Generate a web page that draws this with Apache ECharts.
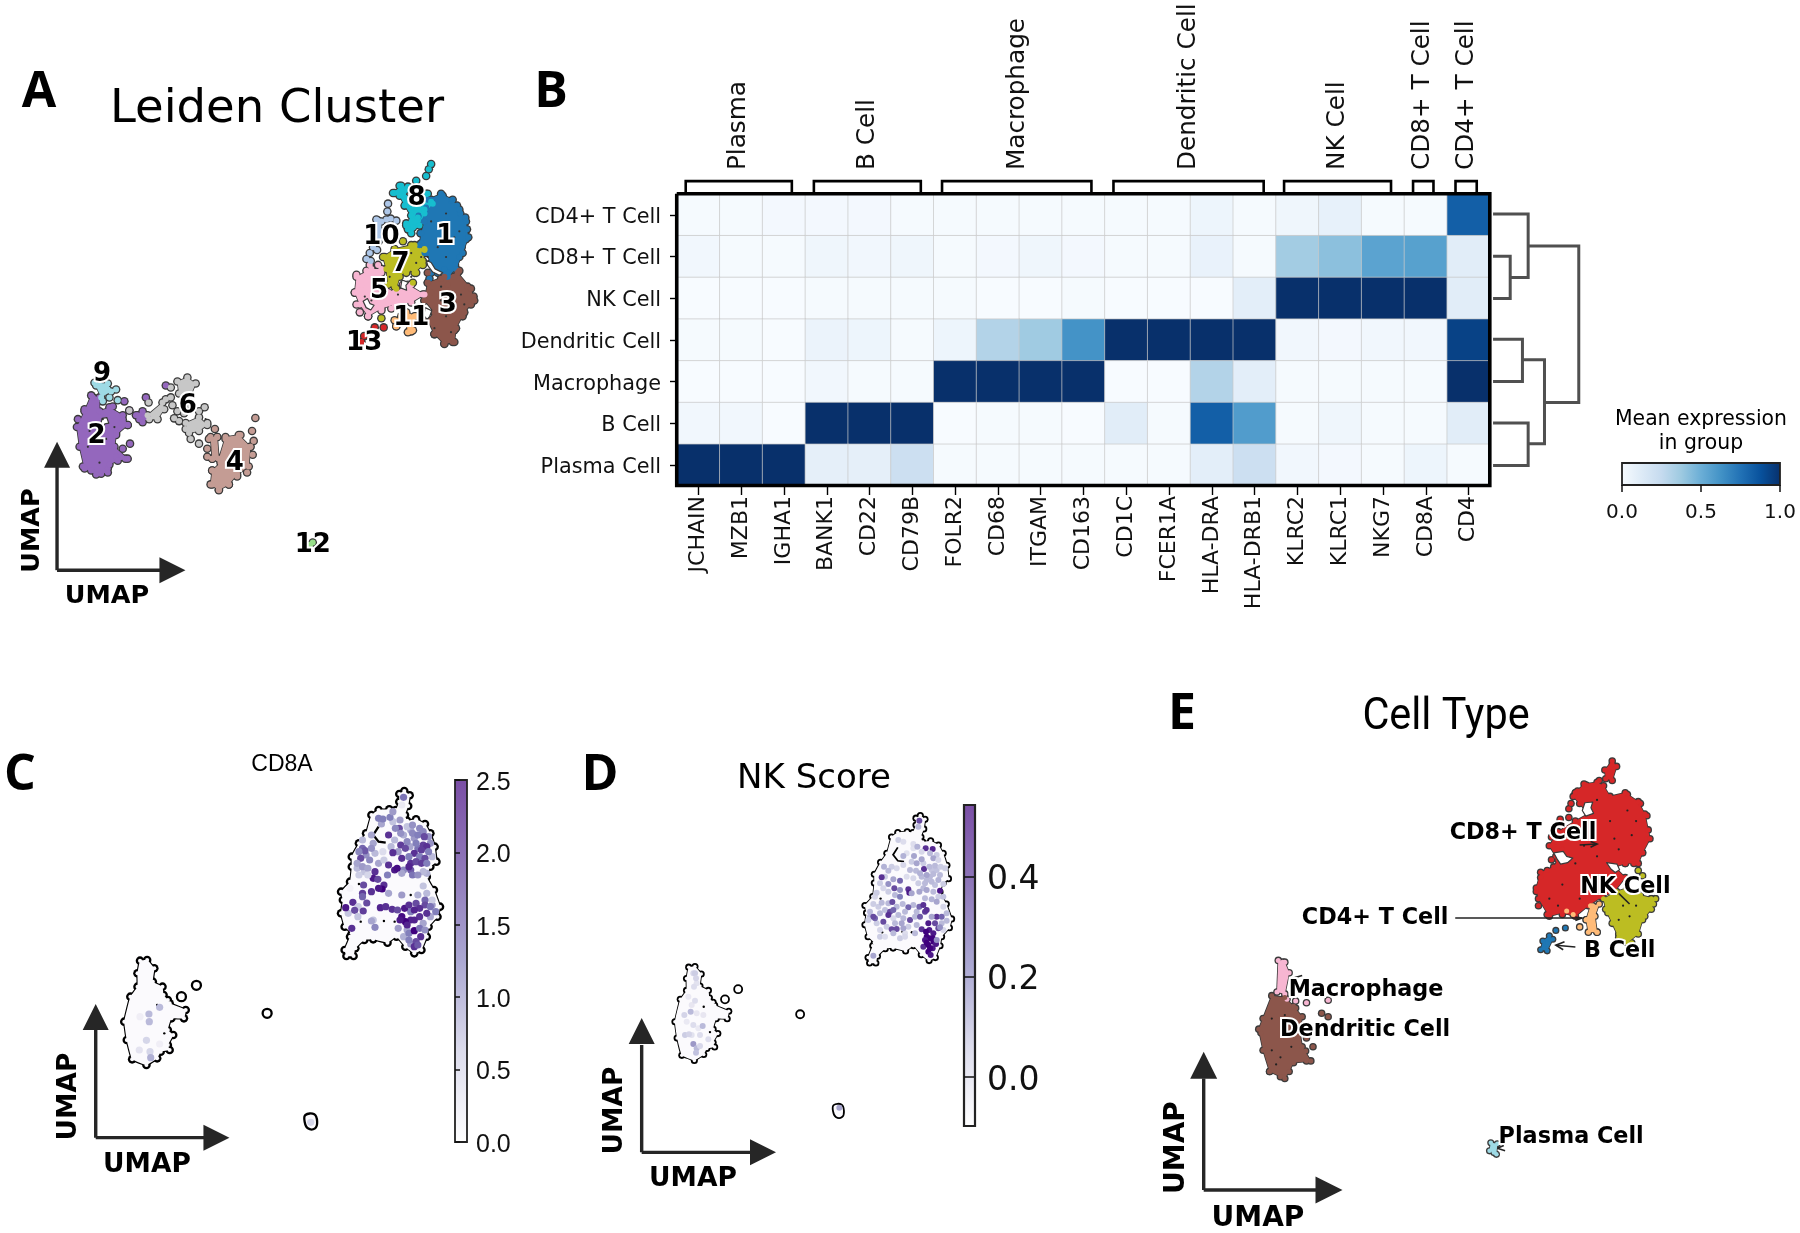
<!DOCTYPE html>
<html><head><meta charset="utf-8">
<style>html,body{margin:0;padding:0;background:#fff}#c{width:1800px;height:1233px}</style>
<script src="https://cdn.jsdelivr.net/npm/echarts@6/dist/echarts.min.js"></script>
</head><body><div id="c"></div>
<script>
// ---------- Heatmap (panel B) ----------
const genes=['JCHAIN','MZB1','IGHA1','BANK1','CD22','CD79B','FOLR2','CD68','ITGAM','CD163','CD1C','FCER1A','HLA-DRA','HLA-DRB1','KLRC2','KLRC1','NKG7','CD8A','CD4'];
const cellTypes=['CD4+ T Cell','CD8+ T Cell','NK Cell','Dendritic Cell','Macrophage','B Cell','Plasma Cell'];
const cd4Row=[.01,.01,.02,.02,.02,.01,.01,.01,.01,.01,.01,.01,.05,.01,.04,.08,.01,.01,.82];
const cd8Row=[.03,.01,.01,.04,.03,.04,.01,.02,.04,.02,.01,.01,.07,.01,.36,.42,.55,.56,.11];
const nkRow=[0,0,0,.01,.01,.01,.01,0,0,.01,0,0,0,.10,1,1,1,1,.11];
const dcRow=[.01,.01,0,.06,.05,.01,.05,.31,.37,.62,1,1,1,1,.03,.02,.03,.03,.93];
const macRow=[0,0,0,.03,.01,.01,1,1,1,1,0,0,.31,.10,.01,.01,.01,.01,1];
const bRow=[.03,.03,0,1,1,1,0,.01,.01,0,.11,.01,.82,.58,.01,.04,.01,.01,.11];
const plasmaRow=[1,1,1,.09,.09,.22,.01,.01,.01,.01,.01,.01,.10,.22,.03,.02,.01,.05,.01];
const heatRows=[cd4Row,cd8Row,nkRow,dcRow,macRow,bRow,plasmaRow];
const geneGroups=['Plasma','B Cell','Macrophage','Dendritic Cell','NK Cell','CD8+ T Cell','CD4+ T Cell'];
const groupCenters=[268,426,609,819,1002,1106,1159];
const groupSpans=[[203,333],[360,491],[517,700],[727,911],[936,1067],[1094,1119],[1146,1172]];
const dendroPaths=[
 [[1192,541],[1235,541],[1235,702],[1213,702]],
 [[1192,648],[1213,648],[1213,755],[1192,755]],
 [[1235,622],[1297,622],[1297,1018],[1255,1018]],
 [[1192,858],[1228,858],[1228,965],[1192,965]],
 [[1228,910],[1255,910],[1255,1122],[1235,1122]],
 [[1192,1070],[1235,1070],[1235,1177],[1192,1177]]];

// ---------- Panel A: Leiden clusters ----------
const leidenColors=['#1f77b4','#9467bd','#8c564b','#c49c94','#f7b6d2','#c7c7c7','#bcbd22','#17becf','#9edae5','#aec7e8','#ffbb78','#98df8a','#d62728'];
const leidenOutlines=[
 [[[1290,505],[1330,490],[1365,505],[1385,530],[1405,560],[1412,600],[1395,640],[1375,680],[1350,700],[1320,690],[1300,665],[1285,640],[1265,620],[1270,590],[1280,560],[1262,545]]],
 [[[275,1000],[300,1005],[300,1040],[330,1030],[370,1050],[385,1075],[350,1100],[345,1130],[385,1160],[355,1165],[330,1175],[325,1195],[290,1200],[255,1185],[240,1130],[232,1080],[255,1040]],[[410,1050],[430,1040],[445,1055],[430,1068]]],
 [[[1290,715],[1340,700],[1380,690],[1420,730],[1430,760],[1400,790],[1375,830],[1370,865],[1340,870],[1310,845],[1290,810],[1310,790],[1280,760]]],
 [[[635,1105],[655,1105],[660,1160],[680,1105],[720,1100],[755,1130],[750,1180],[715,1200],[690,1225],[660,1240],[635,1225],[640,1190],[665,1170],[640,1160]]],
 [[[1075,700],[1120,680],[1150,680],[1150,720],[1190,740],[1230,720],[1280,745],[1240,765],[1190,770],[1150,780],[1110,800],[1085,770],[1070,740]]],
 [[[535,965],[565,955],[590,970],[575,1000],[555,1010],[540,995]],[[560,1070],[600,1055],[625,1075],[600,1090],[570,1095]],[[445,1050],[490,1018],[495,1035],[475,1060],[450,1060]]],
 [[[1155,650],[1190,630],[1240,620],[1280,630],[1275,670],[1250,690],[1230,680],[1205,700],[1195,730],[1170,720],[1165,680]]],
 [[[1185,488],[1210,470],[1230,472],[1222,500],[1240,525],[1270,515],[1285,490],[1305,515],[1280,540],[1265,570],[1240,590],[1225,570],[1240,545],[1220,520],[1205,495]]],
 [[[285,968],[325,970],[335,990],[305,1005]]],
 [[[1135,555],[1150,560],[1150,600],[1130,615],[1128,580]]],
 [[[1225,790],[1255,800],[1245,835],[1230,840],[1225,815],[1195,825],[1190,810]]],
 [],[]];
const leidenCells=[
 [[1300,505],[1335,495],[1360,508],[1378,520],[1388,540],[1403,550],[1408,580],[1405,605],[1392,625],[1385,650],[1372,670],[1352,690],[1340,680],[1315,680],[1300,690],[1295,705],[1280,640],[1270,615],[1268,590],[1278,560],[1262,548],[1285,525]],
 [[375,1015],[340,1028],[390,1038],[392,1122],[370,1135],[378,1160],[240,1080],[235,1060],[255,1035],[280,1005],[250,1180],[275,1190],[305,1198],[325,1185],[350,1155],[340,1050],[370,1060],[385,1075],[350,1095],[340,1130],[440,1005],[500,975],[415,1050],[430,1045],[440,1055],[420,1060]],
 [[1290,690],[1290,715],[1330,705],[1385,685],[1370,700],[1410,725],[1428,750],[1420,770],[1395,800],[1370,835],[1365,865],[1340,868],[1310,845],[1290,810],[1280,760],[1300,740],[1350,720]],
 [[630,1110],[655,1105],[625,1135],[625,1155],[640,1160],[680,1110],[725,1100],[760,1090],[765,1115],[755,1130],[762,1150],[745,1195],[715,1205],[690,1225],[660,1238],[640,1225],[640,1190],[770,1057],[648,1085]],
 [[1115,670],[1140,670],[1075,695],[1105,685],[1070,740],[1075,770],[1085,790],[1110,800],[1130,770],[1150,785],[1180,780],[1215,720],[1240,720],[1275,745],[1150,690],[1160,750],[1090,720]],
 [[500,1010],[515,1005],[520,1025],[535,1040],[555,1045],[575,1025],[617,1030],[600,1040],[525,1058],[540,1065],[560,1085],[575,1110],[600,1122],[625,1070],[515,980],[448,1018],[390,1038]],
 [[1160,650],[1190,635],[1215,610],[1250,620],[1280,632],[1275,660],[1255,690],[1225,690],[1190,725],[1150,805],[1170,680],[1245,715]],
 [[1300,415],[1293,428],[1285,445],[1255,457],[1205,470],[1190,488],[1225,480],[1225,505],[1290,490],[1300,510],[1280,530],[1260,550],[1245,575],[1225,565],[1230,580],[1240,530]],
 [[300,975],[325,985],[350,985],[330,1005],[355,1012],[310,1015],[290,975]],
 [[1140,558],[1132,578],[1155,585],[1168,535],[1165,555],[1178,553],[1195,558],[1142,610],[1125,625],[1137,632],[1105,655],[1118,660],[1115,640],[1170,515]],
 [[1195,825],[1240,838],[1225,800],[1250,800],[1210,800]],
 [[935,1378],[943,1372]],
 [[1090,865],[1130,828],[1157,828],[1098,850]]];
const leidenLabels=[['1',1340,590],['2',288,1095],['3',1347,765],['4',705,1165],['5',1140,730],['6',563,1020],['7',1205,660],['8',1253,495],['9',305,940],['10',1147,592],['11',1237,798],['12',940,1372],['13',1095,860]];
const leidenSpecks=[[1300,560],[1320,625],[1370,600],[1345,650],[1385,585],[1290,650],[1345,540],[1240,640],[1270,650],[1255,665],[1210,675],[1175,700],[1240,700],[1130,720],[1100,750],[1120,760],[1200,745],[1330,760],[1310,830],[1345,800],[1390,745],[1400,770],[1360,840],[1330,725],[270,1090],[265,1130],[300,1170],[310,1060],[345,1080],[320,1110],[690,1180],[725,1150],[620,1060]];
const leidenHoles=[
 [[1285,658],[1300,664],[1312,680],[1335,690],[1325,696],[1305,688],[1290,672]],
 [[1095,762],[1108,755],[1116,768],[1128,772],[1118,784],[1104,778]],
 [[1282,778],[1302,786],[1296,800],[1288,808],[1278,798]],
 [[308,1058],[322,1056],[328,1070],[316,1072],[312,1082],[304,1072]],
 [[1212,708],[1232,714],[1224,722],[1226,734],[1208,728]]];

// ---------- Panels C and D share one embedding ----------
const mainIslandOutline=[[1118,222],[1132,213],[1147,226],[1143,258],[1134,285],[1140,302],[1165,298],[1190,312],[1205,340],[1217,380],[1222,425],[1205,440],[1195,470],[1215,510],[1232,560],[1225,590],[1200,620],[1195,650],[1180,690],[1160,700],[1135,680],[1110,650],[1085,668],[1045,658],[1020,660],[995,685],[990,708],[970,708],[965,690],[980,650],[985,640],[965,620],[955,580],[960,540],[955,515],[980,485],[985,440],[985,410],[1005,370],[1025,340],[1040,285],[1060,270],[1090,268],[1108,270],[1118,245]];
const leftIslandOutline=[[392,722],[412,720],[432,745],[428,785],[455,800],[458,825],[470,840],[475,850],[520,870],[515,895],[480,895],[470,930],[485,945],[470,975],[475,990],[450,995],[440,1015],[410,1035],[370,1018],[355,960],[348,905],[365,830],[385,800],[385,760]];
const lowIslandOutline=[[855,1185],[880,1183],[888,1205],[882,1225],[862,1225],[853,1205]];
const notchLine=[[1060,320],[1045,345],[1060,365],[1080,368]];
const looseCells=[[508,830],[550,796],[748,880]];
const darkSpecks=[[1005,492],[1150,525],[1010,605],[1075,603],[1105,605],[440,855],[460,940]];
const cd8aCells=[[1130,232,1.7],[1125,255,.4],[1060,295,1.6],[1072,297,1.6],[1092,292,1.6],[1100,275,1.3],[1120,300,1.3],[1118,325,2],[1107,325,1.5],[1122,340,1.4],[1088,345,2.2],[1155,315,1.4],[1175,325,1.5],[1155,340,1.5],[1170,345,1.6],[1188,350,2],[1140,365,1.5],[1165,370,1.6],[1185,375,2.1],[1195,380,2.2],[1180,390,2.1],[1200,395,1.6],[1105,360,1.0],[1122,375,2.1],[1135,385,2],[1100,398,2.2],[1072,395,.6],[1125,415,2.2],[1160,400,2.2],[1145,410,1.6],[1175,410,1.6],[1190,415,2],[1150,430,2.2],[1165,425,2],[1180,430,2.1],[1195,430,1.6],[1145,440,2.3],[1088,435,2.2],[1105,450,2.4],[1112,445,2.5],[1155,465,1.7],[1170,465,1.4],[1050,455,2.2],[1045,475,2.4],[1058,478,2],[1085,465,1.6],[1040,345,1.2],[1045,370,1.2],[1015,385,1.8],[1022,392,1.9],[1005,395,1.5],[1010,415,2],[1040,385,1.4],[1035,420,1.5],[1000,430,1.2],[1015,440,1.3],[1030,445,1.2],[1005,465,.8],[1030,465,.7],[1018,495,2],[1040,515,2.2],[1015,520,2.1],[1015,530,1.8],[1075,495,2.2],[1070,507,2.6],[1060,505,2.4],[1088,520,1.2],[1125,525,1.3],[1170,525,1.1],[1195,520,1],[1185,498,.9],[980,505,.2],[988,547,2.2],[968,563,2.4],[1027,549,2],[1003,560,.8],[993,571,2],[1017,573,2.1],[1002,590,.9],[1040,603,1.2],[1050,622,1.5],[985,625,2.2],[1065,563,2.3],[1080,560,2.2],[1098,568,2.2],[1113,570,2],[1133,565,2.4],[1145,555,2.2],[1165,550,2],[1190,540,1.8],[1190,555,2],[1175,565,2.2],[1205,560,1.7],[1160,570,2.3],[1220,575,1.6],[1195,580,2.2],[1175,590,2.2],[1150,600,2.3],[1135,605,2.6],[1125,590,2.5],[1120,600,2.4],[1160,600,2.3],[1115,625,1.3],[1140,615,2.3],[1145,640,1.6],[1160,632,2.6],[1175,625,1.7],[1190,630,1.4],[1178,650,2.2],[1145,660,1.6],[1165,665,2],[1160,680,2.2],[1170,675,1.9],[447,862,1],[417,882,1],[392,890,.3],[418,905,1],[410,961,.7],[447,972,.3],[390,990,.5],[420,995,.7],[422,1013,1.1],[870,1207,.7]];
const cd8aPaleCells=[[1150,330,1.2],[1185,335,1.5],[1200,350,1.4],[1205,370,1.4],[1160,355,1.3],[1148,380,1.2],[1170,385,1.7],[1210,410,1],[1130,345,1.1],[1140,320,.9],[1095,380,1],[1115,395,1.3],[1068,312,1.2],[1100,305,.9],[1015,360,1],[1025,405,1.4],[1050,400,1],[1060,430,1.2],[1075,420,.8],[1000,445,1],[1020,455,.9],[1130,450,1.5],[1125,460,1.2],[1195,460,1.1],[1150,450,1.9],[1185,455,1],[1210,555,1.3],[1150,575,1.6],[1205,590,1.2],[1140,630,1.2],[1185,610,1.2],[1130,650,1.1],[1150,672,1.3],[975,580,.9],[1045,600,.9],[1210,540,.8]];
const nkScoreCells=[[1078,302,.45],[1075,320,.2],[1015,360,.15],[1030,365,.1],[1060,372,.1],[1072,380,.22],[1097,385,.5],[1118,387,.52],[1085,395,.12],[1110,400,.2],[1130,405,.15],[1030,408,.22],[1062,408,.25],[1085,418,.25],[1120,415,.25],[1135,420,.12],[1055,425,.15],[1070,430,.25],[1092,447,.5],[1108,440,.2],[1125,437,.2],[1142,440,.15],[1050,450,.2],[1068,452,.2],[1080,460,.22],[1100,465,.25],[1120,462,.2],[1140,465,.2],[1155,445,.15],[972,440,.22],[985,452,.2],[965,472,.5],[1000,478,.25],[985,492,.3],[960,490,.15],[1020,482,.4],[1003,505,.45],[985,515,.15],[1020,510,.3],[1045,508,.5],[1048,518,.55],[1075,490,.15],[1095,490,.2],[1115,485,.2],[1135,480,.22],[1078,515,.25],[1100,510,.25],[1120,515,.2],[1140,512,.55],[1150,492,.15],[1005,525,.2],[1020,530,.35],[1055,520,.25],[950,518,.15],[965,548,.2],[940,552,.15],[997,546,.45],[1028,552,.2],[1045,562,.4],[1078,560,.4],[1090,555,.5],[1115,538,.22],[1130,545,.25],[1150,560,.12],[990,575,.45],[985,585,.5],[1000,570,.4],[930,575,.2],[945,595,.4],[940,590,.45],[970,605,.45],[925,600,.15],[960,580,.2],[1015,585,.2],[1035,575,.2],[1050,600,.45],[1065,590,.2],[1080,590,.42],[1095,575,.48],[1100,570,.5],[1130,590,.5],[1115,590,.25],[1145,590,.4],[1160,602,.2],[1125,610,.45],[1105,610,.55],[1135,625,.45],[1085,628,.5],[1108,630,.55],[1120,640,.55],[1100,650,.6],[1110,655,.6],[1120,665,.6],[1095,660,.55],[1090,680,.5],[1105,675,.6],[1118,685,.55],[1105,695,.6],[1112,705,.55],[1098,635,.6],[1118,655,.6],[1100,668,.6],[1110,685,.6],[1128,672,.55],[1130,660,.3],[1140,622,.3],[1025,610,.25],[1005,610,.2],[995,628,.45],[1010,627,.45],[1030,625,.25],[1000,640,.2],[960,650,.15],[975,650,.1],[1020,655,.15],[1035,650,.12],[940,707,.25],[1065,640,.2],[1070,615,.2],[405,760,.15],[408,775,.13],[402,800,.1],[405,842,.1],[392,875,.2],[373,885,.13],[400,915,.1],[428,918,.2],[375,945,.15],[387,943,.13],[420,945,.1],[445,958,.1],[400,972,.28],[410,985,.2],[408,998,.18],[420,978,.12],[838,1163,.25]];
const nkScorePaleCells=[[1060,385,.08],[1040,400,.08],[1090,430,.15],[1115,450,.17],[1130,450,.18],[1100,480,.2],[1085,470,.2],[1110,470,.2],[1125,495,.18],[1090,505,.2],[1135,530,.15],[1060,475,.12],[1040,470,.1],[1030,435,.12],[1010,445,.12],[995,440,.15],[975,470,.15],[970,505,.12],[945,530,.12],[955,560,.15],[975,570,.18],[930,590,.2],[950,610,.15],[985,550,.2],[1010,560,.2],[1060,555,.2],[1095,535,.2],[1150,530,.18],[1160,580,.2],[1145,610,.2],[1150,630,.12],[1070,575,.2],[1030,595,.2],[1045,620,.15],[960,630,.12],[1000,595,.12],[1035,640,.1],[980,620,.15],[395,855,.06],[410,880,.06],[380,905,.05],[430,885,.06],[395,945,.08],[415,925,.05],[400,760,.12],[410,790,.08],[385,830,.05]];

// ---------- Panel E: cell types ----------
const typeColors={cd8:'#d62728',nk:'#bcbd22',cd4:'#ffbb78',b:'#1f77b4',mac:'#f7b6d2',dc:'#8c564b',plasma:'#9edae5'};
const cd8Outline=[[1050,320],[1070,295],[1100,290],[1115,300],[1130,330],[1165,320],[1195,345],[1210,380],[1222,450],[1205,490],[1195,520],[1165,520],[1140,530],[1165,560],[1140,600],[1110,615],[1080,640],[1050,670],[1020,660],[990,670],[965,620],[960,590],[970,545],[1000,530],[1010,510],[990,470],[1010,430],[1050,400],[1080,380],[1060,350],[1045,330]];
const cd8Tail=[[1135,230],[1145,245],[1135,285],[1120,280],[1118,255]];
const nkOutline=[[1115,620],[1145,600],[1170,590],[1200,610],[1235,620],[1225,650],[1205,680],[1195,720],[1170,745],[1150,730],[1135,690],[1120,650]];
const cd4Outline=[[1085,640],[1105,635],[1095,670],[1100,715],[1080,715],[1075,680]];
const bOutline=[[975,740],[990,725],[998,735],[985,768],[970,765]];
const macOutline=[[365,795],[380,800],[390,830],[380,890],[362,885]];
const dcOutline=[[350,895],[380,900],[400,925],[420,955],[415,1000],[420,1040],[440,1080],[400,1085],[390,1110],[380,1130],[345,1110],[330,1050],[320,990]];
const plasmaOutline=[[855,1312],[870,1315],[868,1345],[852,1335]];
const cd8Cells=[[1135,240],[1130,260],[1105,285],[1075,298],[1055,315],[1040,350],[1035,365],[1035,390],[1015,395],[1005,430],[995,445],[1000,470],[1020,480],[1005,500],[995,510],[985,540],[970,560],[960,600],[965,640],[985,665],[1020,665],[1045,660],[1200,350],[1215,385],[1218,425],[1215,450],[1205,490],[1185,520],[1165,520],[1140,530],[1050,320],[1170,325]];
const nkCells=[[1195,540],[1205,555],[1170,590],[1225,620],[1210,670],[1180,745],[1150,720],[1125,660],[1230,635]];
const cd4Cells=[[1060,700],[1030,655],[1045,665],[1090,640],[1100,715],[1075,680]];
const bCells=[[985,745],[978,760],[1005,710],[1027,703]];
const macCells=[[375,800],[385,905],[405,910],[430,915],[480,908]];
const dcCells=[[465,945],[480,955],[445,1040],[428,1052],[430,1080],[405,930],[430,1015],[330,960],[325,1000],[345,1110],[370,1125]];
const plasmaCells=[[860,1320],[862,1340]];
const typeLabels=[['CD8+ T Cell',927,425],['NK Cell',1163,578],['CD4+ T Cell',586,668],['B Cell',1150,760],['Macrophage',565,872],['Dendritic Cell',563,985],['Plasma Cell',1038,1288]];
const typeSpecks=[[1100,340],[1130,400],[1170,370],[1140,450],[1180,440],[1070,470],[1100,500],[1150,480],[1190,400],[1050,520],[1020,580],[990,620],[1010,640],[1060,620],[1090,560],[1160,640],[1175,670],[1150,680],[1190,640],[350,960],[375,1000],[350,1050],[370,1070],[395,1040],[360,1090],[380,950]];
const typeHoles=[
 [[1072,348],[1090,346],[1086,362],[1092,378],[1074,386],[1066,370]],
 [[1000,490],[1022,486],[1030,500],[1044,505],[1032,518],[1016,522],[1008,508]],
 [[1122,518],[1146,522],[1152,538],[1142,546],[1132,536]]];
const typeArrows=[
 [[773,675],[1065,675]],[[1050,672],[1065,675],[1050,682]],
 [[1050,757],[1005,752]],[[1025,742],[1005,752],[1022,765]],
 [[420,838],[392,848]],[[888,1335],[870,1328]],[[885,1320],[870,1328]],
 [[1060,468],[1100,465]],[[1085,458],[1100,465],[1085,474]],
 [[1150,605],[1175,635]]];

// ---------- Colour scales ----------
const blues=['#f7fbff','#deebf7','#c6dbef','#9ecae1','#6baed6','#4292c6','#2171b5','#08519c','#08306b'];
const purples=['#fcfbfd','#efedf5','#dadaeb','#bcbddc','#9e9ac8','#807dba','#6a51a3','#54278f','#3f007d'];
const purpleBar=[[0,'#ffffff'],[.25,'#dcdcec'],[.5,'#aba8d2'],[.75,'#8f78b9'],[1,'#7a4ea5']];

// ---------- Layout (grid = pixel box, span = axis range of the box) ----------
const grids=[],xAxes=[],yAxes=[],series=[],visualMaps=[];
function addPlane(left,top,w,h,xSpan,ySpan){
 const i=grids.length;
 grids.push({left,top,width:w,height:h,show:false,containLabel:false});
 xAxes.push({gridIndex:i,type:'value',min:0,max:xSpan,show:false});
 yAxes.push({gridIndex:i,type:'value',min:0,max:ySpan,inverse:true,show:false});
 return i;
}
const common={animation:false,silent:true};
function line(g,pts,color,width,z){
 series.push({...common,type:'line',xAxisIndex:g,yAxisIndex:g,data:pts,symbol:'none',showSymbol:false,clip:false,z:z||5,
  lineStyle:{color,width,cap:'butt',join:'miter'}});
}
function poly(g,pts,fill,stroke,width,z,smooth){
 series.push({...common,type:'custom',xAxisIndex:g,yAxisIndex:g,data:pts,encode:{x:0,y:1},clip:false,z,
  renderItem(p,api){
   if(p.dataIndex!==0)return null;
   return {type:'polygon',shape:{points:pts.map(q=>api.coord(q)),smooth:smooth||0},style:{fill,stroke,lineWidth:width,lineJoin:'round'}};
  }});
}
function dots(g,pts,color,size,z,border,bw){
 series.push({...common,type:'scatter',xAxisIndex:g,yAxisIndex:g,data:pts,symbolSize:size,z,
  itemStyle:{color,opacity:1,borderColor:border||color,borderWidth:bw||0}});
}
function texts(g,rows,font,size,color,halo){
 series.push({...common,type:'scatter',xAxisIndex:g,yAxisIndex:g,z:9,symbolSize:1,
  data:rows.map(r=>({value:[r[1],r[2]],name:r[0]})),itemStyle:{color:'transparent',opacity:1},
  label:{show:true,position:'inside',offset:[1,3],formatter:'{b}',fontFamily:font,fontWeight:'bold',fontSize:size,color,align:'center',verticalAlign:'middle',
   textBorderColor:halo||'transparent',textBorderWidth:halo?4:0}});
}
function umapArrows(g,xLine,yLine,xHead,yHead,sz){
 line(g,[[xLine[0],xLine[1]],[xLine[2],xLine[1]]],'#262626',3.4,5);
 line(g,[[yLine[0],yLine[1]],[yLine[0],yLine[2]]],'#262626',3.4,5);
 series.push({...common,type:'scatter',xAxisIndex:g,yAxisIndex:g,data:[xHead],symbol:'triangle',symbolSize:sz,symbolRotate:-90,z:6,itemStyle:{color:'#262626',opacity:1}});
 series.push({...common,type:'scatter',xAxisIndex:g,yAxisIndex:g,data:[yHead],symbol:'triangle',symbolSize:sz,z:6,itemStyle:{color:'#262626',opacity:1}});
}
function cluster(g,color,outlines,cells,size){
 const rim=[].concat(...outlines);
 dots(g,cells.concat(rim),'#3a3a3a',size+2.6,2);
 outlines.forEach(o=>poly(g,o,color,'#3a3a3a',1.6,2));
 outlines.forEach(o=>poly(g,o,color,'none',0,3));
 dots(g,cells.concat(rim),color,size,4);
}

// --- Panel A ---
const gA=addPlane(0,0,520,620,1568,1568);
leidenColors.forEach((c,i)=>cluster(gA,c,leidenOutlines[i],leidenCells[i],6));
leidenHoles.forEach(h=>poly(gA,h,'#fff','#3a3a3a',1.2,5));
dots(gA,leidenSpecks,'#333',2.2,6);
texts(gA,leidenLabels,'DejaVu Sans',26,'#000','#fff');
umapArrows(gA,[172,1442,500],[172,1442,1170],[520,1442],[172,1150],[26,26]);

// --- Panel B: heatmap grid, overlay plane ---
const gH=grids.length;
grids.push({left:677,top:194,width:813,height:292,show:false});
xAxes.push({gridIndex:gH,type:'category',data:genes,splitArea:{show:false},axisLine:{show:false},
 axisTick:{show:true,alignWithLabel:true,length:9,lineStyle:{color:'#000',width:1.4}},
 axisLabel:{rotate:90,interval:0,margin:10,fontFamily:'DejaVu Sans',fontSize:22,color:'#111'}});
yAxes.push({gridIndex:gH,type:'category',data:cellTypes,inverse:true,axisLine:{show:false},
 axisTick:{show:true,alignWithLabel:true,length:7,lineStyle:{color:'#000',width:1.4}},
 axisLabel:{interval:0,margin:16,formatter:v=>'{a|'+v+'}',rich:{a:{padding:[5,0,0,0],fontFamily:'DejaVu Sans',fontSize:20.8,color:'#111'}}}});
const heatData=[];heatRows.forEach((r,y)=>r.forEach((v,x)=>heatData.push([x,y,v])));
visualMaps.push({show:false,seriesIndex:series.length,min:0,max:1,dimension:2,inRange:{color:blues}});
series.push({...common,type:'heatmap',xAxisIndex:gH,yAxisIndex:gH,data:heatData,z:2,itemStyle:{borderColor:'#c9c9c9',borderWidth:.7}});
const gO=addPlane(520,0,1280,620,1568,1568);
line(gO,[[192,490],[1188,490],[1188,1228],[192,1228],[192,490]],'#000',3.6,6);
groupSpans.forEach(s=>line(gO,[[s[0],488],[s[0],458],[s[1],458],[s[1],488]],'#000',2.6,6));
dendroPaths.forEach(p=>line(gO,p,'#505050',3,6));
series.push({...common,type:'scatter',xAxisIndex:gO,yAxisIndex:gO,z:9,symbolSize:1,itemStyle:{color:'transparent',opacity:1},
 data:geneGroups.map((n,i)=>({value:[groupCenters[i],430],name:n})),
 label:{show:true,position:'inside',formatter:'{b}',rotate:90,align:'left',verticalAlign:'middle',fontFamily:'DejaVu Sans',fontSize:24.7,color:'#111'}});

// --- Colour bars ---
function colorBar(left,top,w,h,stops,horizontal,min,max,ticks,font,fs,tickLen,bw,margin,pad){
 const i=grids.length;
 grids.push({left,top,width:w,height:h,show:true,borderColor:'#222',borderWidth:bw,
  backgroundColor:{type:'linear',x:0,y:horizontal?0:1,x2:horizontal?1:0,y2:0,colorStops:stops.map(s=>({offset:s[0],color:s[1]}))}});
 const ax={gridIndex:i,type:'value',min,max,splitLine:{show:false},axisLine:{show:false},
  axisTick:{show:true,length:tickLen,lineStyle:{color:'#111',width:1.5}},
  axisLabel:{margin,formatter:v=>'{a|'+v.toFixed(1)+'}',rich:{a:{padding:pad||0,fontFamily:font,fontSize:fs,color:'#111'}}}};
 if(ticks){ax.axisTick.customValues=ticks;ax.axisLabel.customValues=ticks;}else{ax.interval=.5;}
 const off={gridIndex:i,type:'value',min:0,max:1,show:false};
 if(horizontal){xAxes.push({...ax,position:'bottom'});yAxes.push(off);}
 else{yAxes.push({...ax,position:'right'});xAxes.push(off);}
}
colorBar(1622,463,158,22,blues.map((c,k)=>[k/8,c]),true,0,1,null,'DejaVu Sans',20,7,1.8,18);
colorBar(455,780,12,362,purpleBar,false,0,2.5,null,'Liberation Sans',25,5,1.8,9,[6,0,0,0]);
colorBar(964,805,11,321,purpleBar,false,-.098,.543,[0,.2,.4],'DejaVu Sans',33,10,2.2,12,[8,0,0,0]);

// --- Panels C, D silhouettes and expression cells ---
function silhouette(g,lw,ringSize,bump){
 [mainIslandOutline,leftIslandOutline].forEach(o=>{
  dots(g,o,'#000',bump+2*lw,2);
  poly(g,o,'#fbfafd','#000',lw,2,.1);
  poly(g,o,'#fbfafd','none',0,3,.1);
  dots(g,o,'#fbfafd',bump,3);
 });
 poly(g,lowIslandOutline,'#fbfafd','#000',lw,2,.4);
 line(g,notchLine,'#000',lw,3);
 series.push({...common,type:'scatter',xAxisIndex:g,yAxisIndex:g,data:looseCells,symbolSize:ringSize,z:3,itemStyle:{color:'#fff',opacity:1,borderColor:'#000',borderWidth:lw}});
 dots(g,darkSpecks,'#000',2.4,3);
}
const gC=addPlane(0,720,560,500,1568,1500);
silhouette(gC,2.3,9,4);
visualMaps.push({show:false,seriesIndex:series.length,min:0,max:2.6,dimension:2,inRange:{color:purples}});
dots(gC,cd8aPaleCells.concat(cd8aCells),undefined,7.2,4);
umapArrows(gC,[268,1253,585],[268,1253,930],[606,1253],[268,891],[26,26]);

const gDe=addPlane(566,752,490.8,447,1568,1500);
silhouette(gDe,1.8,8,3.5);
const gD=addPlane(560,720,520,500,1560,1500);
visualMaps.push({show:false,seriesIndex:series.length,min:-.05,max:.6,dimension:2,inRange:{color:purples}});
dots(gD,nkScorePaleCells.concat(nkScoreCells),undefined,6,4);
umapArrows(gD,[245,1297,585],[245,1297,975],[609,1297],[245,933],[26,26]);

// --- Panel E ---
const gE=addPlane(1120,680,680,553,1568,1568);
cluster(gE,typeColors.cd8,[cd8Outline,cd8Tail],cd8Cells,5);
cluster(gE,typeColors.nk,[nkOutline],nkCells,5);
cluster(gE,typeColors.cd4,[cd4Outline],cd4Cells,5);
cluster(gE,typeColors.b,[bOutline],bCells,4.5);
cluster(gE,typeColors.mac,[macOutline],macCells,5);
cluster(gE,typeColors.dc,[dcOutline],dcCells,5);
cluster(gE,typeColors.plasma,[plasmaOutline],plasmaCells,4.5);
typeHoles.forEach(h=>poly(gE,h,'#fff','#3a3a3a',1.2,5));
dots(gE,typeSpecks,'#222',2.2,6);
typeArrows.forEach(a=>line(gE,a,'#222',1.6,7));
texts(gE,typeLabels,'DejaVu Sans',22.3,'#000','#fff');
umapArrows(gE,[193,1446,465],[193,1446,1130],[482,1446],[193,1092],[27,27]);

// ---------- Free text ----------
function T(text,x,y,font,extra){return {type:'text',x,y:y+2.5,z:20,rotation:(extra&&extra.rot)||0,scaleX:(extra&&extra.sx)||1,style:{text,font,fill:'#000',textAlign:'center',textVerticalAlign:'middle'}};}
const bold='bold 25.5px "DejaVu Sans"',boldC='bold 26.5px "DejaVu Sans"',boldE='bold 28px "DejaVu Sans"';
const graphic=[
 T('A',39,90,'bold 50px "Open Sans"'),T('B',551,90,'bold 50px "Open Sans"'),T('C',20,773,'bold 50px "Open Sans"'),T('D',600,773,'bold 50px "Open Sans"'),T('E',1182,712,'bold 50px "Open Sans"'),
 T('Leiden Cluster',277,107,'46.5px "DejaVu Sans"'),
 T('CD8A',282,762,'23px "Liberation Sans"'),
 T('NK Score',814,777,'34px "DejaVu Sans"'),
 T('Cell Type',1446,715,'44px Roboto',{sx:.94}),
 T('Mean expression',1701,417,'20.4px "DejaVu Sans"'),
 T('in group',1701,441,'20.4px "DejaVu Sans"'),
 T('UMAP',107,594,bold),T('UMAP',32,528,bold,{rot:Math.PI/2}),
 T('UMAP',147,1163,boldC),T('UMAP',69,1094,boldC,{rot:Math.PI/2}),
 T('UMAP',693,1177,boldC),T('UMAP',615,1108,boldC,{rot:Math.PI/2}),
 T('UMAP',1258,1216,boldE),T('UMAP',1177,1145,boldE,{rot:Math.PI/2})
];

const chart=echarts.init(document.getElementById('c'),null,{renderer:'canvas'});
chart.setOption({backgroundColor:'#fff',animation:false,textStyle:{fontFamily:'DejaVu Sans'},grid:grids,xAxis:xAxes,yAxis:yAxes,visualMap:visualMaps,series,graphic});
</script></body></html>
